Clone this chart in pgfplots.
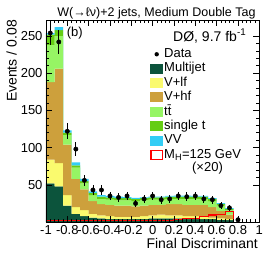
\documentclass[border=0pt]{standalone}
\usepackage{fontspec}
\setmainfont{Liberation Sans}
\usepackage{pgfplots}
\pgfplotsset{compat=1.18}
\usepackage{pgfplotstable}
\definecolor{cMJ}{RGB}{12,84,60}
\definecolor{cVlf}{RGB}{250,250,110}
\definecolor{cVhf}{RGB}{205,160,60}
\definecolor{ctt}{RGB}{150,245,100}
\definecolor{cst}{RGB}{100,205,20}
\definecolor{cVV}{RGB}{50,205,245}
\pgfplotstableread{
x mj vlf vhf tt st vv
-1.00 52 32 104 50 14 2
-0.92 48 31 127 44 8 4
-0.84 22 14 68 13 3 3
-0.76 11 9 38 15 3 4
-0.68 8 8 28 8 3 3
-0.60 6 5 17 8 3 2
-0.52 5 4 15 7 3 2
-0.44 4 4 15 7 3 2
-0.36 4 3 15 7 3 2
-0.28 4 3 15 7 3 1.5
-0.20 4 3 14 7 3 1.5
-0.12 4 4 14 7 3 1
-0.04 5 4 14 7 3 1
0.04 5 5 13 7 3 1
0.12 5 4 15 7 3 1
0.20 5 4 15 7 3 1.5
0.28 4 4 15 8 3 1.5
0.36 4 4 15 8 3 1
0.44 4 3 16 8 3 1
0.52 4 2 14 8 3 1
0.60 3 2 10 7 2.5 1
0.68 2.5 1.5 6 5.5 2 1
0.76 2.5 1.5 6 5.5 2 1
}\bkg
\pgfplotstableread{
x sig
-1.00 1.5
-0.92 2.5
-0.84 2.5
-0.76 2
-0.68 1.5
-0.60 1.5
-0.52 1.5
-0.44 1.5
-0.36 1.5
-0.28 1.5
-0.20 1.5
-0.12 2.5
-0.04 2.5
0.04 2.5
0.12 2.5
0.20 3
0.28 4.5
0.36 5
0.44 7
0.52 9.5
0.60 10
0.68 14
0.76 14
0.76 0
}\sig
\pgfplotstableread{
x y e
-0.96 254 15.94
-0.88 242 15.56
-0.80 122 11.05
-0.72 98 9.90
-0.64 56 7.48
-0.56 43 6.56
-0.48 43 6.56
-0.40 35 5.92
-0.32 33 5.74
-0.24 35 5.92
-0.16 25 5.00
-0.08 31 5.57
0.00 35 5.92
0.08 30 5.48
0.16 31 5.57
0.24 35 5.92
0.32 34 5.83
0.40 35 5.92
0.48 31 5.57
0.56 30 5.48
0.64 22 4.69
0.72 19 4.36
0.80 3 1.73
}\dat
\begin{document}
\begin{tikzpicture}
\begin{axis}[
  scale only axis, width=213.3pt, height=202pt,
  xmin=-1, xmax=1, ymin=0, ymax=271.5,
  axis on top,
  xtick={-1,-0.8,-0.6,-0.4,-0.2,0,0.2,0.4,0.6,0.8,1},
  xticklabels={-1,-0.8,-0.6,-0.4,-0.2,0,0.2,0.4,0.6,0.8,1},
  ytick={50,100,150,200,250},
  yticklabels={50,100,150,200,250},
  minor x tick num=4, minor y tick num=4,
  tick align=inside, tick pos=both,
  major tick length=6pt, minor tick length=3pt,
  tick style={black, line width=0.6pt},
  axis line style={black, line width=0.8pt},
  ticklabel style={font=\fontsize{13}{15}\selectfont},
  /pgf/number format/assume math mode=true,
  legend style={at={(0.4876,0.867)}, anchor=north west, draw=none, fill=none,
    font=\fontsize{13}{15}\selectfont, inner sep=0pt, row sep=0pt,
    nodes={inner sep=1pt, text height=9.5pt, text depth=2.9pt, anchor=west}},
  legend cell align=left,
]
\addplot[stack plots=y, fill=cMJ, draw=none, const plot mark left, forget plot] table[x=x,y=mj]{\bkg} \closedcycle;
\addplot[stack plots=y, fill=cVlf, draw=none, const plot mark left, forget plot] table[x=x,y=vlf]{\bkg} \closedcycle;
\addplot[stack plots=y, fill=cVhf, draw=none, const plot mark left, forget plot] table[x=x,y=vhf]{\bkg} \closedcycle;
\addplot[stack plots=y, fill=ctt, draw=none, const plot mark left, forget plot] table[x=x,y=tt]{\bkg} \closedcycle;
\addplot[stack plots=y, fill=cst, draw=none, const plot mark left, forget plot] table[x=x,y=st]{\bkg} \closedcycle;
\addplot[stack plots=y, fill=cVV, draw=none, const plot mark left, forget plot] table[x=x,y=vv]{\bkg} \closedcycle;
\addplot[red, line width=1.2pt, const plot mark left, forget plot] table[x=x,y=sig]{\sig};
\addplot[only marks, mark=*, mark size=2.2pt, black, forget plot,
  error bars/.cd, y dir=both, y explicit, error mark=none,
  error bar style={line width=0.8pt}] table[x=x,y=y,y error=e]{\dat};
\addlegendimage{legend image code/.code={\path[draw=none,fill=none] (0pt,-5pt) rectangle (13pt,5pt); \fill[black, draw=none] (6.5pt,0pt) circle (2.2pt);}}
\addlegendentry{Data}
\addlegendimage{legend image code/.code={\fill[cMJ, draw=none] (0pt,-5pt) rectangle (13pt,5pt);}}
\addlegendentry{Multijet}
\addlegendimage{legend image code/.code={\fill[cVlf, draw=none] (0pt,-5pt) rectangle (13pt,5pt);}}
\addlegendentry{V+lf}
\addlegendimage{legend image code/.code={\fill[cVhf, draw=none] (0pt,-5pt) rectangle (13pt,5pt);}}
\addlegendentry{V+hf}
\addlegendimage{legend image code/.code={\fill[ctt, draw=none] (0pt,-5pt) rectangle (13pt,5pt);}}
\addlegendentry{t\={t}}
\addlegendimage{legend image code/.code={\fill[cst, draw=none] (0pt,-5pt) rectangle (13pt,5pt);}}
\addlegendentry{single t}
\addlegendimage{legend image code/.code={\fill[cVV, draw=none] (0pt,-5pt) rectangle (13pt,5pt);}}
\addlegendentry{VV}
\addlegendimage{legend image code/.code={\draw[red, fill=none, line width=1.3pt] (0.65pt,-4.35pt) rectangle (12.35pt,4.35pt);}}
\addlegendentry{M\textsubscript{H}=125 GeV}
\end{axis}
\node[anchor=base, font=\fontsize{12.5}{14}\selectfont] at (110.5pt,206pt) {W(→ℓν)+2 jets, Medium Double Tag};
\node[anchor=base west, font=\fontsize{13}{15}\selectfont, inner sep=0pt] at (20.7pt,186pt) {(b)};
\node[anchor=base west, font=\fontsize{14}{16}\selectfont, inner sep=0pt] at (127pt,181pt) {DØ, 9.7 fb\textsuperscript{-1}};
\node[anchor=base, font=\fontsize{13}{15}\selectfont, inner sep=0pt] at (161.5pt,50.5pt) {(×20)};
\node[anchor=base east, font=\fontsize{14}{16}\selectfont, inner sep=0pt] at (212pt,-26pt) {Final Discriminant};
\node[anchor=base east, rotate=90, font=\fontsize{14}{16}\selectfont, inner sep=0pt] at (-29.3pt,202pt) {Events / 0.08};
\pgfresetboundingbox
\path[use as bounding box] (-46pt,-36pt) rectangle (220pt,222pt);
\end{tikzpicture}
\end{document}
